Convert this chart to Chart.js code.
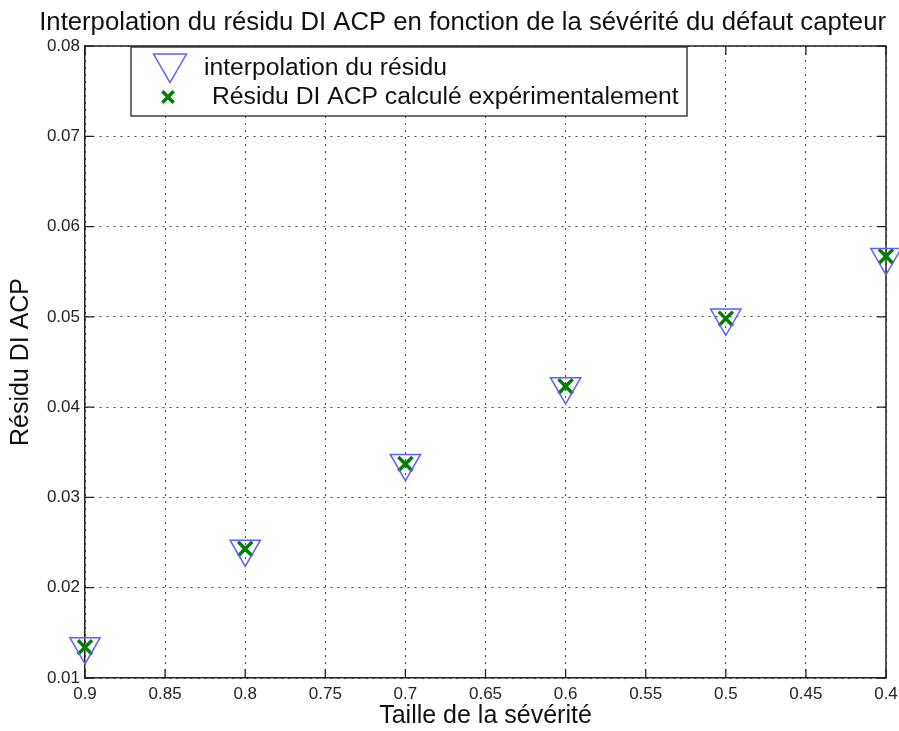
<!DOCTYPE html>
<html>
<head>
<meta charset="utf-8">
<script src="https://cdn.jsdelivr.net/npm/chart.js@4.4.1/dist/chart.umd.min.js"></script>
<style>
  html, body { margin: 0; padding: 0; background: #fff; }
  #wrap { width: 899px; height: 731px; position: relative; }
</style>
</head>
<body>
<div id="wrap"><canvas id="chart"></canvas></div>
<script>
// ── Data ──
const severities = [0.9, 0.8, 0.7, 0.6, 0.5, 0.4];
const residuInterp = [0.0135, 0.0243, 0.0338, 0.0423, 0.0499, 0.0566];
const residuExp = [0.0134, 0.0243, 0.0337, 0.0423, 0.0498, 0.0567];

const titleText = 'Interpolation du résidu DI ACP en fonction de la sévérité du défaut capteur';
const xTitle = 'Taille de la sévérité';
const yTitle = 'Résidu DI ACP';
const labelInterp = 'interpolation du résidu';
const labelExp = 'Résidu DI ACP calculé expérimentalement';

const FONT = "'Liberation Sans', Arial, Helvetica, sans-serif";
const AXIS = '#222';
const GRID = 'rgba(40,40,40,0.85)';

const fmt = v => String(Number(v.toFixed(3)));

// ── Frame: top/right border + inward tick marks (MATLAB box style) ──
const framePlugin = {
  id: 'frame',
  beforeDatasetsDraw(chart) {
    const { ctx, chartArea: a, scales } = chart;
    ctx.save();
    ctx.strokeStyle = AXIS;
    ctx.lineWidth = 1.5;
    ctx.beginPath();
    ctx.moveTo(a.left, a.top);
    ctx.lineTo(a.right, a.top);
    ctx.lineTo(a.right, a.bottom);
    ctx.stroke();
    const tl = 9;
    ctx.lineWidth = 1.3;
    scales.x.ticks.forEach(t => {
      const px = scales.x.getPixelForValue(t.value);
      ctx.beginPath();
      ctx.moveTo(px, a.bottom); ctx.lineTo(px, a.bottom - tl);
      ctx.moveTo(px, a.top); ctx.lineTo(px, a.top + tl);
      ctx.stroke();
    });
    scales.y.ticks.forEach(t => {
      const py = scales.y.getPixelForValue(t.value);
      ctx.beginPath();
      ctx.moveTo(a.left, py); ctx.lineTo(a.left + tl, py);
      ctx.moveTo(a.right, py); ctx.lineTo(a.right - tl, py);
      ctx.stroke();
    });
    ctx.restore();
  },
};

// ── Legend box inside the axes, top-left ──
const legendBoxPlugin = {
  id: 'legendBox',
  afterDraw(chart) {
    const { ctx } = chart;
    const box = { x: 131, y: 47, w: 556, h: 69 };
    ctx.save();
    ctx.fillStyle = '#fff';
    ctx.fillRect(box.x, box.y, box.w, box.h);
    ctx.strokeStyle = AXIS;
    ctx.lineWidth = 1.3;
    ctx.strokeRect(box.x, box.y, box.w, box.h);

    const rows = [
      { ds: chart.data.datasets[0], iconX: 170, iconY: 63.5, r: 19, textX: 204, textY: 68 },
      { ds: chart.data.datasets[1], iconX: 168, iconY: 97, r: 8, textX: 212, textY: 97.5 },
    ];
    rows.forEach(row => {
      const ds = row.ds;
      ctx.strokeStyle = ds.borderColor;
      ctx.fillStyle = 'rgba(0,0,0,0)';
      ctx.lineWidth = ds.pointBorderWidth;
      Chart.helpers.drawPoint(ctx, {
        pointStyle: ds.pointStyle,
        rotation: ds.rotation || 0,
        radius: row.r,
        borderWidth: ds.pointBorderWidth,
      }, row.iconX, row.iconY);
      ctx.fillStyle = '#111';
      ctx.font = `24.7px ${FONT}`;
      ctx.textBaseline = 'middle';
      ctx.textAlign = 'left';
      ctx.fillText(ds.label, row.textX, row.textY);
    });
    ctx.restore();
  },
};

const ctx = document.getElementById('chart').getContext('2d');
new Chart(ctx, {
  type: 'scatter',
  data: {
    datasets: [{
      label: labelInterp,
      data: severities.map((s, i) => ({ x: s, y: residuInterp[i] })),
      pointStyle: 'triangle',
      rotation: 180,
      pointRadius: 17.5,
      pointHoverRadius: 17.5,
      pointBorderWidth: 1.5,
      borderColor: 'rgb(95,95,255)',
      backgroundColor: 'rgba(0,0,0,0)',
      clip: false,
    }, {
      label: labelExp,
      data: severities.map((s, i) => ({ x: s, y: residuExp[i] })),
      pointStyle: 'crossRot',
      pointRadius: 10,
      pointHoverRadius: 10,
      pointBorderWidth: 3.5,
      borderColor: 'rgb(0,128,0)',
      backgroundColor: 'rgb(0,128,0)',
      clip: false,
    }],
  },
  options: {
    responsive: true,
    maintainAspectRatio: false,
    animation: false,
    events: [],
    layout: { autoPadding: false, padding: { left: 0, right: 13, top: 0, bottom: 0 } },
    plugins: {
      legend: { display: false },
      tooltip: { enabled: false },
      title: {
        display: true,
        text: titleText,
        align: 'end',
        color: '#111',
        font: { family: FONT, size: 25.7, weight: 'normal', lineHeight: 1.2 },
        padding: { top: 7, bottom: 8.2 },
      },
    },
    scales: {
      x: {
        type: 'linear',
        reverse: true,
        min: 0.4,
        max: 0.9,
        afterFit: s => {
          s.height = 53;
          s.paddingLeft = 0; s.paddingRight = 0;
        },
        ticks: {
          stepSize: 0.05,
          padding: 6,
          color: AXIS,
          font: { family: FONT, size: 17 },
          maxRotation: 0,
          callback: v => fmt(v),
        },
        grid: { color: GRID, lineWidth: 1, drawTicks: false },
        border: { display: true, color: AXIS, width: 1.5, dash: [2, 5] },
        title: {
          display: true,
          text: xTitle,
          color: '#111',
          font: { family: FONT, size: 25 },
          padding: { top: 0, bottom: 0 },
        },
      },
      y: {
        type: 'linear',
        min: 0.01,
        max: 0.08,
        afterFit: s => {
          s.width = 85;
          s.paddingTop = 0; s.paddingBottom = 0;
        },
        ticks: {
          stepSize: 0.01,
          padding: 5,
          color: AXIS,
          font: { family: FONT, size: 17 },
          callback: v => fmt(v),
        },
        grid: { color: GRID, lineWidth: 1, drawTicks: false },
        border: { display: true, color: AXIS, width: 1.5, dash: [2, 5] },
        title: {
          display: true,
          text: yTitle,
          color: '#111',
          font: { family: FONT, size: 25 },
          padding: { top: 6, bottom: 0 },
        },
      },
    },
  },
  plugins: [framePlugin, legendBoxPlugin],
});
</script>
</body>
</html>
